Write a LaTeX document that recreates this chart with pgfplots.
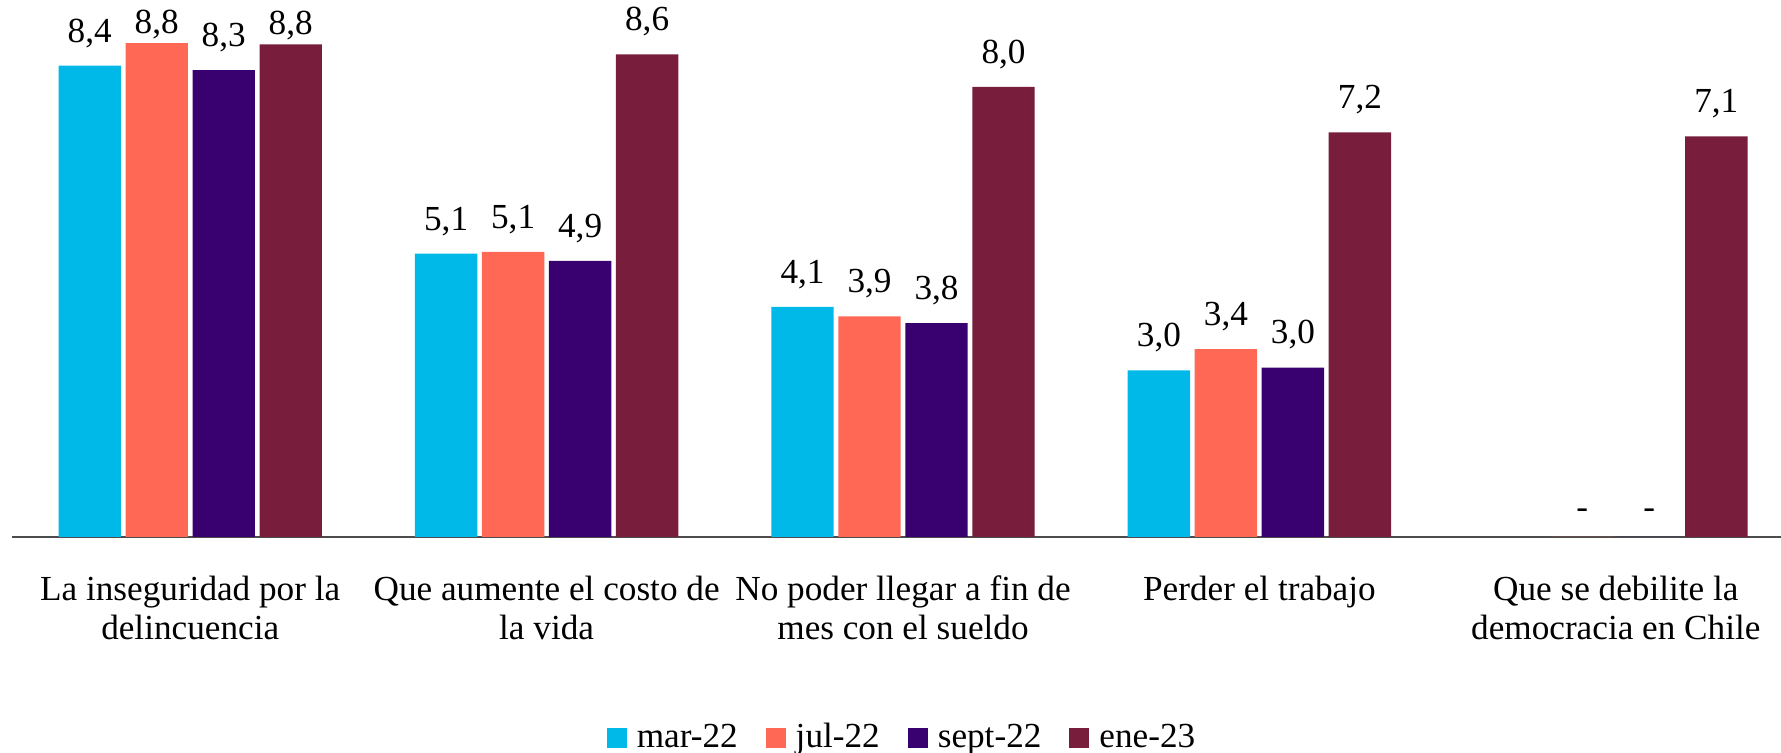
\documentclass[border=0pt]{standalone}
\usepackage{fontspec}
\setmainfont{Liberation Serif}
\usepackage{pgfplots}
\pgfplotsset{compat=1.18}
\definecolor{cMar}{RGB}{0,185,232}
\definecolor{cJul}{RGB}{255,104,85}
\definecolor{cSep}{RGB}{57,0,112}
\definecolor{cEne}{RGB}{120,29,60}
\newcommand{\chfont}{\fontsize{17.6pt}{19.3pt}\selectfont}
\begin{document}
\chfont
\begin{tikzpicture}
\begin{axis}[
  scale only axis, width=891pt, height=268.5pt,
  xmin=-0.5, xmax=4.5, ymin=0, ymax=9.57,
  axis y line=none, axis x line*=bottom,
  x axis line style={line width=1.3pt, color=black!70},
  ybar, bar width=0.175,
  xtick={0,1,2,3,4},
  xticklabels={{La inseguridad por la\\delincuencia},{Que aumente el costo de\\la vida},{No poder llegar a fin de\\mes con el sueldo},{Perder el trabajo},{Que se debilite la\\democracia en Chile}},
  xticklabel style={align=center, font=\chfont, yshift=-13.5pt},
  major tick length=0pt,
  ytick=\empty,
  nodes near coords, point meta=explicit symbolic,
  visualization depends on={rawy \as \rawy},
  every node near coord/.append style={font=\chfont, color=black,
     yshift={ifthenelse(\rawy>8.7,-3.8,3)*1pt}},
  legend columns=4,
  legend style={draw=none, at={(0.5,-0.3749)}, anchor=center, font=\chfont,
    /tikz/every even column/.append style={column sep=12pt},
    /tikz/every odd column/.append style={column sep=3pt}},
  legend image code/.code={\fill[#1] (0pt,-5pt) rectangle (10pt,5pt);},
  clip=false,
]
\addplot[fill=cMar, draw=none, bar shift=-0.282] coordinates {(0,8.4)[8,4] (1,5.05)[5,1] (2,4.1)[4,1] (3,2.97)[3,0]};
\addplot[fill=cJul, draw=none, bar shift=-0.094] coordinates {(0,8.8)[8,8] (1,5.08)[5,1] (2,3.93)[3,9] (3,3.35)[3,4] (4,0)[-]};
\addplot[fill=cSep, draw=none, bar shift=0.094] coordinates {(0,8.32)[8,3] (1,4.92)[4,9] (2,3.81)[3,8] (3,3.02)[3,0] (4,0)[-]};
\addplot[fill=cEne, draw=none, bar shift=0.282] coordinates {(0,8.78)[8,8] (1,8.6)[8,6] (2,8.02)[8,0] (3,7.21)[7,2] (4,7.14)[7,1]};
\legend{mar-22,jul-22,sept-22,ene-23}
\end{axis}
\pgfresetboundingbox
\path[use as bounding box] (-6pt,-108pt) rectangle (884.5pt,268.5pt);
\end{tikzpicture}
\end{document}
